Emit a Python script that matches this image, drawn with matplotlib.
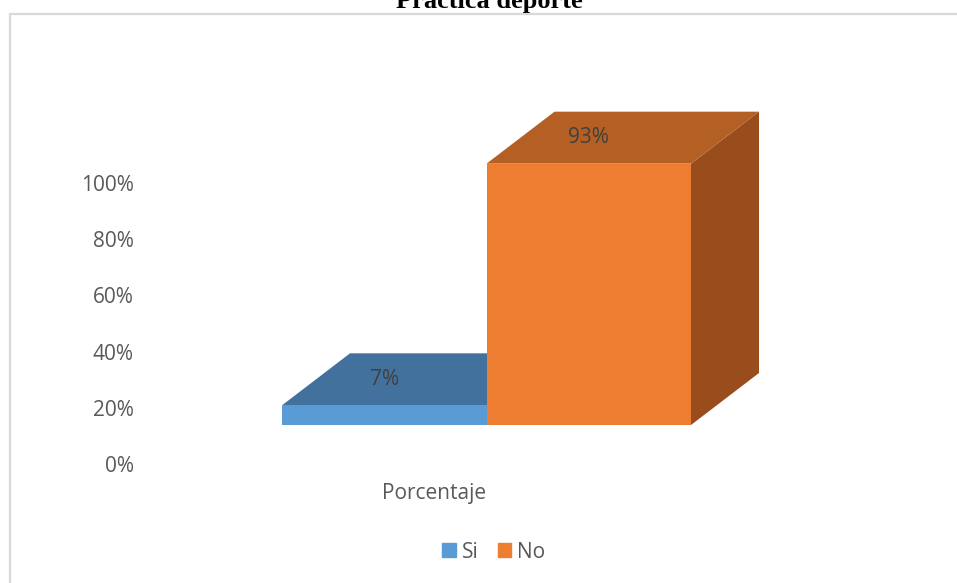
import matplotlib.pyplot as plt
from matplotlib.patches import Patch, Rectangle

categories = ["Si", "No"]
values = [7, 93]
front_colors = ["#5B9BD5", "#ED7D31"]
top_colors = ["#41719C", "#B45F24"]
side_colors = ["#3A6690", "#994D1D"]
y_ticks = [0, 20, 40, 60, 80, 100]
axis_label = "Porcentaje"
title = "Práctica deporte"

W, H = 957, 583
fig = plt.figure(figsize=(W / 100, H / 100), dpi=100)
plt.rcParams['font.family'] = ['Open Sans', 'DejaVu Sans']

# plot area: 0% .. 100% between these pixel rows
ax_left, ax_right = 145, 860
y0_px, y100_px = 464, 183
ax = fig.add_axes([ax_left / W, 1 - y0_px / H, (ax_right - ax_left) / W, (y0_px - y100_px) / H])
ax.set_ylim(0, 100)
px_per_pct = (y0_px - y100_px) / 100

# bar width of 1 data unit spans this many pixels
bar_px = 204.5
x_start_px = 282
ax.set_xlim((ax_left - x_start_px) / bar_px, (ax_right - x_start_px) / bar_px)

# 3d look: depth offset and floor height of the bars
dx = 68 / bar_px
dy = 52 / px_per_pct
base = (y0_px - 425) / px_per_pct

for i, (v, fc, tc, sc) in enumerate(zip(values, front_colors, top_colors, side_colors)):
    x0, x1 = i, i + 1
    top = base + v
    # right side
    ax.fill([x1, x1 + dx, x1 + dx, x1], [base, base + dy, top + dy, top],
            color=sc, lw=0, clip_on=False, zorder=2 + i)
    # top
    ax.fill([x0, x1, x1 + dx, x0 + dx], [top, top, top + dy, top + dy],
            color=tc, lw=0, clip_on=False, zorder=2 + i)
    # front
    ax.fill([x0, x1, x1, x0], [base, base, top, top],
            color=fc, lw=0, clip_on=False, zorder=2 + i)
    ax.text(i + 0.5, top + dy / 2, f"{v}%", ha='center', va='center',
            fontsize=15, color='#404040', zorder=5)

ax.set_yticks(y_ticks)
ax.set_yticklabels([f"{t}%" for t in y_ticks])
ax.tick_params(axis='y', length=0, pad=8, labelsize=15, labelcolor='#595959')
ax.set_xticks([])
for s in ax.spines.values():
    s.set_visible(False)
ax.patch.set_alpha(0)

ax.text((434 - x_start_px) / bar_px, (y0_px - 493) / px_per_pct, axis_label,
        ha='center', va='center', fontsize=15, color='#595959')

# chart frame, only top and left edges fall inside the image
fig.patches.append(Rectangle((9.5 / W, -0.1), 1.2, 1.1 - 14.5 / H,
                             transform=fig.transFigure, fill=False,
                             edgecolor='#D9D9D9', lw=1.6))

fig.text(489 / W, 1 - 8 / H, title, ha='center', va='baseline',
         fontsize=19, fontweight='bold', family='Liberation Serif', color='black')

handles = [Patch(color=c, label=n) for c, n in zip(front_colors, categories)]
leg = fig.legend(handles=handles, loc='center', bbox_to_anchor=(494 / W, 1 - 552 / H),
                 ncol=2, frameon=False, fontsize=15, handlelength=0.65, handleheight=0.65,
                 handletextpad=0.3, columnspacing=0.9)
for t in leg.get_texts():
    t.set_color('#595959')

fig.savefig("out.png", dpi=100)
